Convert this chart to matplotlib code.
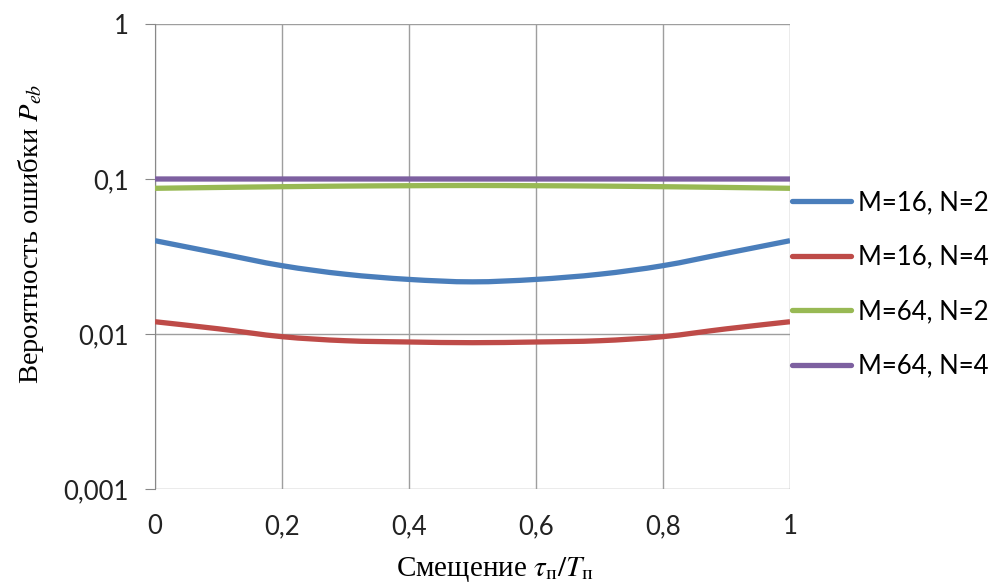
import matplotlib
matplotlib.use("Agg")
import matplotlib.pyplot as plt
import numpy as np
from matplotlib.path import Path
from matplotlib.patches import PathPatch
from matplotlib.lines import Line2D
from matplotlib.ticker import FixedLocator, NullLocator

plt.rcParams["mathtext.fontset"] = "stix"

x = [0, 0.1, 0.2, 0.3, 0.4, 0.5, 0.6, 0.7, 0.8, 0.9, 1.0]
m16_n2 = [0.0400, 0.0332, 0.0276, 0.0243, 0.0225, 0.0217, 0.0225, 0.0243, 0.0276, 0.0332, 0.0400]
m16_n4 = [0.0120, 0.0108, 0.00961, 0.00905, 0.00888, 0.00879, 0.00888, 0.00905, 0.00961, 0.0108, 0.0120]
m64_n2 = [0.0871, 0.0882, 0.0892, 0.0900, 0.0905, 0.0908, 0.0905, 0.0900, 0.0892, 0.0882, 0.0871]
m64_n4 = [0.100] * 11

labels = ["M=16, N=2", "M=16, N=4", "M=64, N=2", "M=64, N=4"]
colors = ["#4A7EBB", "#BE4B48", "#98B954", "#7D60A0"]
series = [m16_n2, m16_n4, m64_n2, m64_n4]

yticks = [0.001, 0.01, 0.1, 1]
ytick_labels = ["0,001", "0,01", "0,1", "1"]
xticks = [0, 0.2, 0.4, 0.6, 0.8, 1]
xtick_labels = ["0", "0,2", "0,4", "0,6", "0,8", "1"]


def smooth_path(xs, ys):
    # Excel-style smoothed line: cubic Bezier segments through the points (in log-y space)
    px = np.asarray(xs, float)
    py = np.log10(np.asarray(ys, float))
    n = len(px)
    verts = [(px[0], py[0])]
    codes = [Path.MOVETO]
    for i in range(n - 1):
        i0 = max(i - 1, 0)
        i3 = min(i + 2, n - 1)
        c1 = (px[i] + (px[i + 1] - px[i0]) / 6, py[i] + (py[i + 1] - py[i0]) / 6)
        c2 = (px[i + 1] - (px[i3] - px[i]) / 6, py[i + 1] - (py[i3] - py[i]) / 6)
        verts += [c1, c2, (px[i + 1], py[i + 1])]
        codes += [Path.CURVE4] * 3
    verts = [(vx, 10 ** vy) for vx, vy in verts]
    return Path(verts, codes)


fig = plt.figure(figsize=(9.98, 5.88), dpi=100)
ax = fig.add_axes([155/998, 1 - 489/588, (790-155)/998, (489-24)/588])

handles = []
for s, c, l in zip(series, colors, labels):
    patch = PathPatch(smooth_path(x, s), facecolor="none", edgecolor=c, lw=3.8,
                      capstyle="butt", joinstyle="round", zorder=3)
    ax.add_patch(patch)
    handles.append(Line2D([], [], color=c, lw=3.8, solid_capstyle="round", label=l))

ax.set_yscale("log")
ax.set_ylim(0.001, 1)
ax.set_xlim(0, 1)
ax.yaxis.set_major_locator(FixedLocator(yticks))
ax.yaxis.set_minor_locator(NullLocator())
ax.set_yticklabels(ytick_labels)
ax.set_xticks(xticks)
ax.set_xticklabels(xtick_labels)

for t in ax.get_xticklabels() + ax.get_yticklabels():
    t.set_fontfamily("Lato")
    t.set_fontsize(18.5)
    t.set_color("#222222")

ax.grid(True, color="#9e9e9e", lw=1.0)
ax.set_axisbelow(True)
for side in ["top", "right", "bottom"]:
    ax.spines[side].set_visible(False)
ax.spines["left"].set_color("#888888")
ax.tick_params(axis="y", length=7, color="#888888", pad=12)
ax.tick_params(axis="x", length=0, pad=18)

ax.set_ylabel("Вероятность ошибки $P_{eb}$", family="Liberation Serif", fontsize=20.5)
ax.yaxis.set_label_coords(-0.172, 0.548)
ax.set_xlabel("Смещение $\\tau_{\\mathrm{п}}/T_{\\mathrm{п}}$", family="Liberation Serif", fontsize=21)
ax.xaxis.set_label_coords(0.535, -0.142)

leg = fig.legend(handles=handles, loc="upper left", bbox_to_anchor=(792/998, 1 - 190/588),
                 bbox_transform=fig.transFigure, frameon=False,
                 prop=dict(family="Lato", size=18.5), handlelength=2.3, handletextpad=0.25,
                 labelspacing=1.15, borderaxespad=0, borderpad=0)

fig.savefig("out.png", dpi=100)
